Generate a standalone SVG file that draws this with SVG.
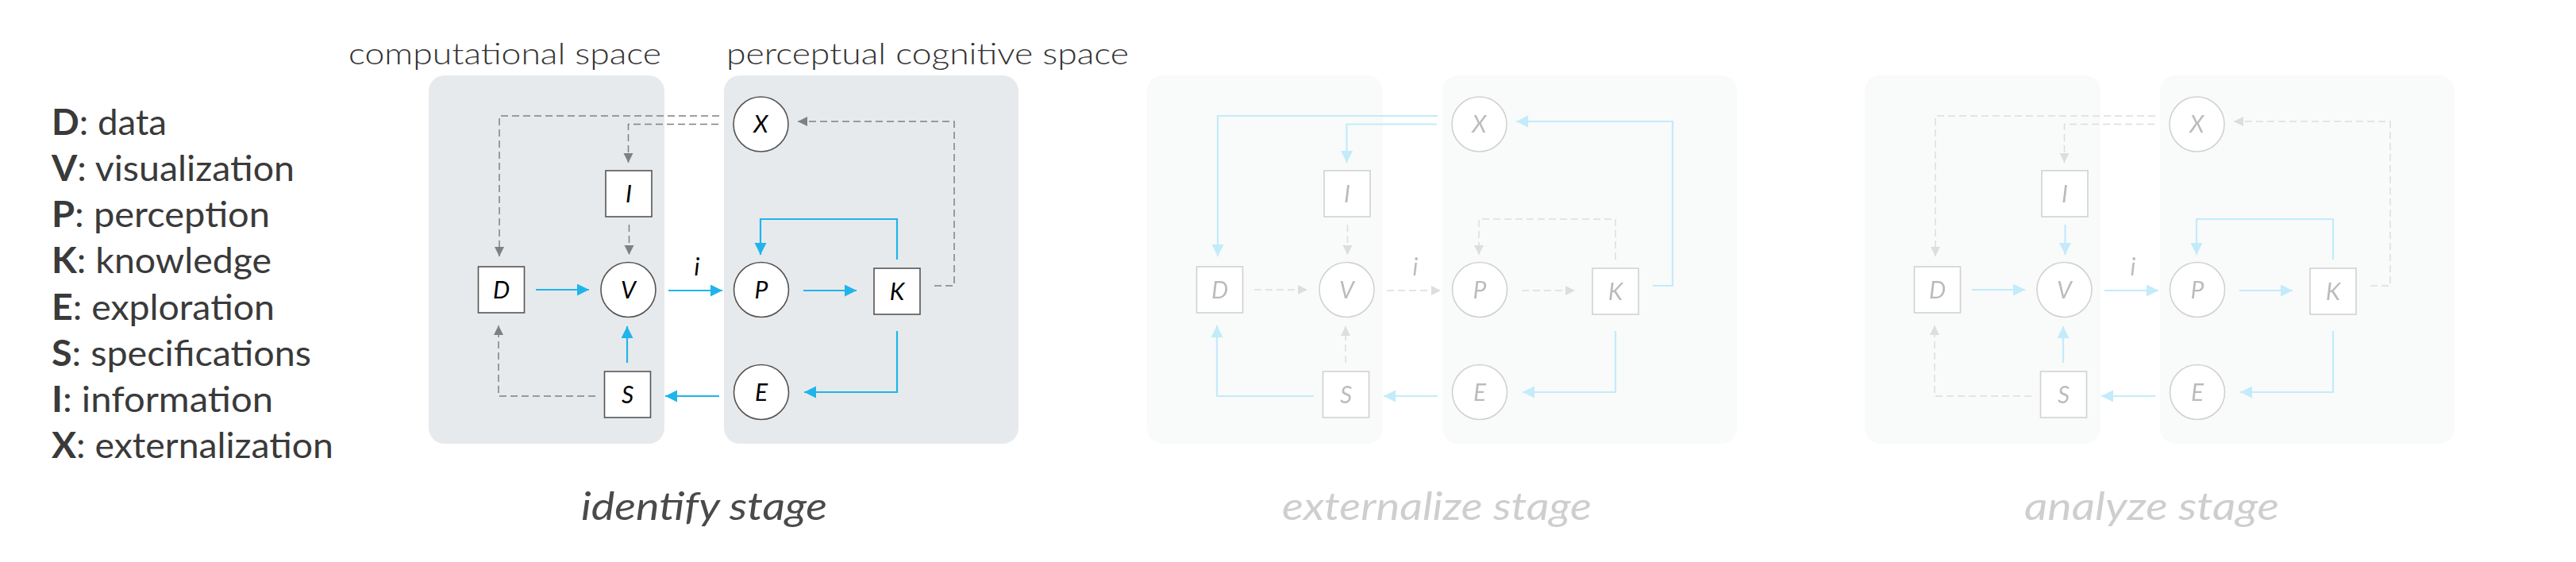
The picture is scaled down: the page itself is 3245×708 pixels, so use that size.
<svg xmlns="http://www.w3.org/2000/svg" width="3245" height="708" viewBox="0 0 3245 708">
<style>
.bg{fill:#ffffff}
.panel{fill:#e7eaed}
.node{fill:#ffffff;stroke:#555555;stroke-width:1.6}
.lbl{font-family:Lato,"Liberation Sans",sans-serif;font-style:italic;font-size:30px;fill:#000000;text-anchor:middle}
.blue{fill:none;stroke:#1fb5ea;stroke-width:2.2;marker-end:url(#ab)}
.dash{fill:none;stroke:#808080;stroke-width:1.5;stroke-dasharray:9 5;marker-end:url(#ag)}
.title{font-family:Lato,"Liberation Sans",sans-serif;font-weight:300;font-size:38px;fill:#333333}
.leg{font-family:Lato,"Liberation Sans",sans-serif;font-weight:400;font-size:45px;fill:#3a3a3a}
.leg tspan.k{font-weight:700}
.stage{font-family:Lato,"Liberation Sans",sans-serif;font-style:italic;font-size:49px;fill:#4a4a4a}
.faded{opacity:0.27}
</style>
<defs>
<marker id="ab" markerUnits="userSpaceOnUse" markerWidth="16" markerHeight="16" refX="15" refY="7.5" orient="auto">
<path d="M0,0 L15,7.5 L0,15 Z" fill="#1fb5ea"/>
</marker>
<marker id="ag" markerUnits="userSpaceOnUse" markerWidth="13" markerHeight="13" refX="12" refY="6" orient="auto">
<path d="M0,0 L12,6 L0,12 Z" fill="#808080"/>
</marker>
</defs>
<rect class="bg" x="0" y="0" width="3245" height="708"/>

<g id="legend">
<text class="leg" x="65" y="170" textLength="145" lengthAdjust="spacingAndGlyphs"><tspan class="k">D</tspan>: data</text>
<text class="leg" x="65" y="228" textLength="306" lengthAdjust="spacingAndGlyphs"><tspan class="k">V</tspan>: visualization</text>
<text class="leg" x="65" y="286" textLength="275" lengthAdjust="spacingAndGlyphs"><tspan class="k">P</tspan>: perception</text>
<text class="leg" x="65" y="344" textLength="277" lengthAdjust="spacingAndGlyphs"><tspan class="k">K</tspan>: knowledge</text>
<text class="leg" x="65" y="403" textLength="281" lengthAdjust="spacingAndGlyphs"><tspan class="k">E</tspan>: exploration</text>
<text class="leg" x="65" y="461" textLength="327" lengthAdjust="spacingAndGlyphs"><tspan class="k">S</tspan>: specifications</text>
<text class="leg" x="65" y="519" textLength="279" lengthAdjust="spacingAndGlyphs"><tspan class="k">I</tspan>: information</text>
<text class="leg" x="65" y="577" textLength="355" lengthAdjust="spacingAndGlyphs"><tspan class="k">X</tspan>: externalization</text>
</g>

<g id="space-titles">
<text class="title" x="439" y="81" textLength="394" lengthAdjust="spacingAndGlyphs">computational space</text>
<text class="title" x="915" y="81" textLength="507" lengthAdjust="spacingAndGlyphs">perceptual cognitive space</text>
</g>

<!-- Stage 1: identify -->
<g id="stage-identify">
<rect class="panel" x="540" y="95" width="297" height="464" rx="20"/>
<rect class="panel" x="912" y="95" width="371" height="464" rx="20"/>
<g id="s1-connectors">
<path class="dash" d="M906 146 H629 V323"/>
<path class="dash" d="M905 156.5 H791.5 V205"/>
<path class="dash" d="M792.5 283 V321"/>
<path class="dash" d="M750 499 H628 V410"/>
<path class="dash" d="M1177 360 H1202 V153 H1005"/>
<path class="blue" d="M675 365 H742"/>
<path class="blue" d="M842 366 H910"/>
<path class="blue" d="M1012 366 H1079"/>
<path class="blue" d="M1130 327 V276 H958 V321"/>
<path class="blue" d="M1130 417 V494 H1013"/>
<path class="blue" d="M906 499 H838"/>
<path class="blue" d="M790 457 V411"/>
<text class="lbl" x="878" y="347">i</text>
</g>
<g id="s1-X"><circle class="node" cx="958.5" cy="156.5" r="34.5"/><text class="lbl" x="958.5" y="167">X</text></g>
<g id="s1-I"><rect class="node" x="763" y="215" width="58" height="58"/><text class="lbl" x="792" y="254.5">I</text></g>
<g id="s1-D"><rect class="node" x="602.5" y="336" width="58" height="58"/><text class="lbl" x="631.5" y="375.5">D</text></g>
<g id="s1-V"><circle class="node" cx="791.5" cy="365" r="34.5"/><text class="lbl" x="791.5" y="375.5">V</text></g>
<g id="s1-P"><circle class="node" cx="959" cy="365" r="34.5"/><text class="lbl" x="959" y="375.5">P</text></g>
<g id="s1-K"><rect class="node" x="1101" y="338" width="58" height="58"/><text class="lbl" x="1130" y="377.5">K</text></g>
<g id="s1-E"><circle class="node" cx="959" cy="494" r="34.5"/><text class="lbl" x="959" y="504.5">E</text></g>
<g id="s1-S"><rect class="node" x="761.5" y="468" width="58" height="58"/><text class="lbl" x="790.5" y="507.5">S</text></g>
<text class="stage" x="732" y="655" textLength="310" lengthAdjust="spacingAndGlyphs">identify stage</text>
</g>

<!-- Stage 2: externalize -->
<g id="stage-externalize" class="faded">
<g transform="translate(905 0)">
<rect class="panel" x="540" y="95" width="297" height="464" rx="20"/>
<rect class="panel" x="912" y="95" width="371" height="464" rx="20"/>
<g id="s2-connectors">
<path class="dash" d="M792.5 283 V321"/>
<path class="dash" d="M675 365 H742"/>
<path class="dash" d="M842 366 H910"/>
<path class="dash" d="M1012 366 H1079"/>
<path class="dash" d="M1130 327 V276 H958 V321"/>
<path class="dash" d="M790 457 V411"/>
<path class="blue" d="M906 146 H629 V323"/>
<path class="blue" d="M905 156.5 H791.5 V205"/>
<path class="blue" d="M750 499 H628 V410"/>
<path class="blue" d="M1177 360 H1202 V153 H1005"/>
<path class="blue" d="M1130 417 V494 H1013"/>
<path class="blue" d="M906 499 H838"/>
<text class="lbl" x="878" y="347">i</text>
</g>
<g id="s2-X"><circle class="node" cx="958.5" cy="156.5" r="34.5"/><text class="lbl" x="958.5" y="167">X</text></g>
<g id="s2-I"><rect class="node" x="763" y="215" width="58" height="58"/><text class="lbl" x="792" y="254.5">I</text></g>
<g id="s2-D"><rect class="node" x="602.5" y="336" width="58" height="58"/><text class="lbl" x="631.5" y="375.5">D</text></g>
<g id="s2-V"><circle class="node" cx="791.5" cy="365" r="34.5"/><text class="lbl" x="791.5" y="375.5">V</text></g>
<g id="s2-P"><circle class="node" cx="959" cy="365" r="34.5"/><text class="lbl" x="959" y="375.5">P</text></g>
<g id="s2-K"><rect class="node" x="1101" y="338" width="58" height="58"/><text class="lbl" x="1130" y="377.5">K</text></g>
<g id="s2-E"><circle class="node" cx="959" cy="494" r="34.5"/><text class="lbl" x="959" y="504.5">E</text></g>
<g id="s2-S"><rect class="node" x="761.5" y="468" width="58" height="58"/><text class="lbl" x="790.5" y="507.5">S</text></g>
</g>
<text class="stage" x="1615" y="655" textLength="390" lengthAdjust="spacingAndGlyphs">externalize stage</text>
</g>

<!-- Stage 3: analyze -->
<g id="stage-analyze" class="faded">
<g transform="translate(1809 0)">
<rect class="panel" x="540" y="95" width="297" height="464" rx="20"/>
<rect class="panel" x="912" y="95" width="371" height="464" rx="20"/>
<g id="s3-connectors">
<path class="dash" d="M906 146 H629 V323"/>
<path class="dash" d="M905 156.5 H791.5 V205"/>
<path class="dash" d="M750 499 H628 V410"/>
<path class="dash" d="M1177 360 H1202 V153 H1005"/>
<path class="blue" d="M792.5 283 V321"/>
<path class="blue" d="M675 365 H742"/>
<path class="blue" d="M842 366 H910"/>
<path class="blue" d="M1012 366 H1079"/>
<path class="blue" d="M1130 327 V276 H958 V321"/>
<path class="blue" d="M1130 417 V494 H1013"/>
<path class="blue" d="M906 499 H838"/>
<path class="blue" d="M790 457 V411"/>
<text class="lbl" x="878" y="347">i</text>
</g>
<g id="s3-X"><circle class="node" cx="958.5" cy="156.5" r="34.5"/><text class="lbl" x="958.5" y="167">X</text></g>
<g id="s3-I"><rect class="node" x="763" y="215" width="58" height="58"/><text class="lbl" x="792" y="254.5">I</text></g>
<g id="s3-D"><rect class="node" x="602.5" y="336" width="58" height="58"/><text class="lbl" x="631.5" y="375.5">D</text></g>
<g id="s3-V"><circle class="node" cx="791.5" cy="365" r="34.5"/><text class="lbl" x="791.5" y="375.5">V</text></g>
<g id="s3-P"><circle class="node" cx="959" cy="365" r="34.5"/><text class="lbl" x="959" y="375.5">P</text></g>
<g id="s3-K"><rect class="node" x="1101" y="338" width="58" height="58"/><text class="lbl" x="1130" y="377.5">K</text></g>
<g id="s3-E"><circle class="node" cx="959" cy="494" r="34.5"/><text class="lbl" x="959" y="504.5">E</text></g>
<g id="s3-S"><rect class="node" x="761.5" y="468" width="58" height="58"/><text class="lbl" x="790.5" y="507.5">S</text></g>
</g>
<text class="stage" x="2550" y="655" textLength="321" lengthAdjust="spacingAndGlyphs">analyze stage</text>
</g>
</svg>
